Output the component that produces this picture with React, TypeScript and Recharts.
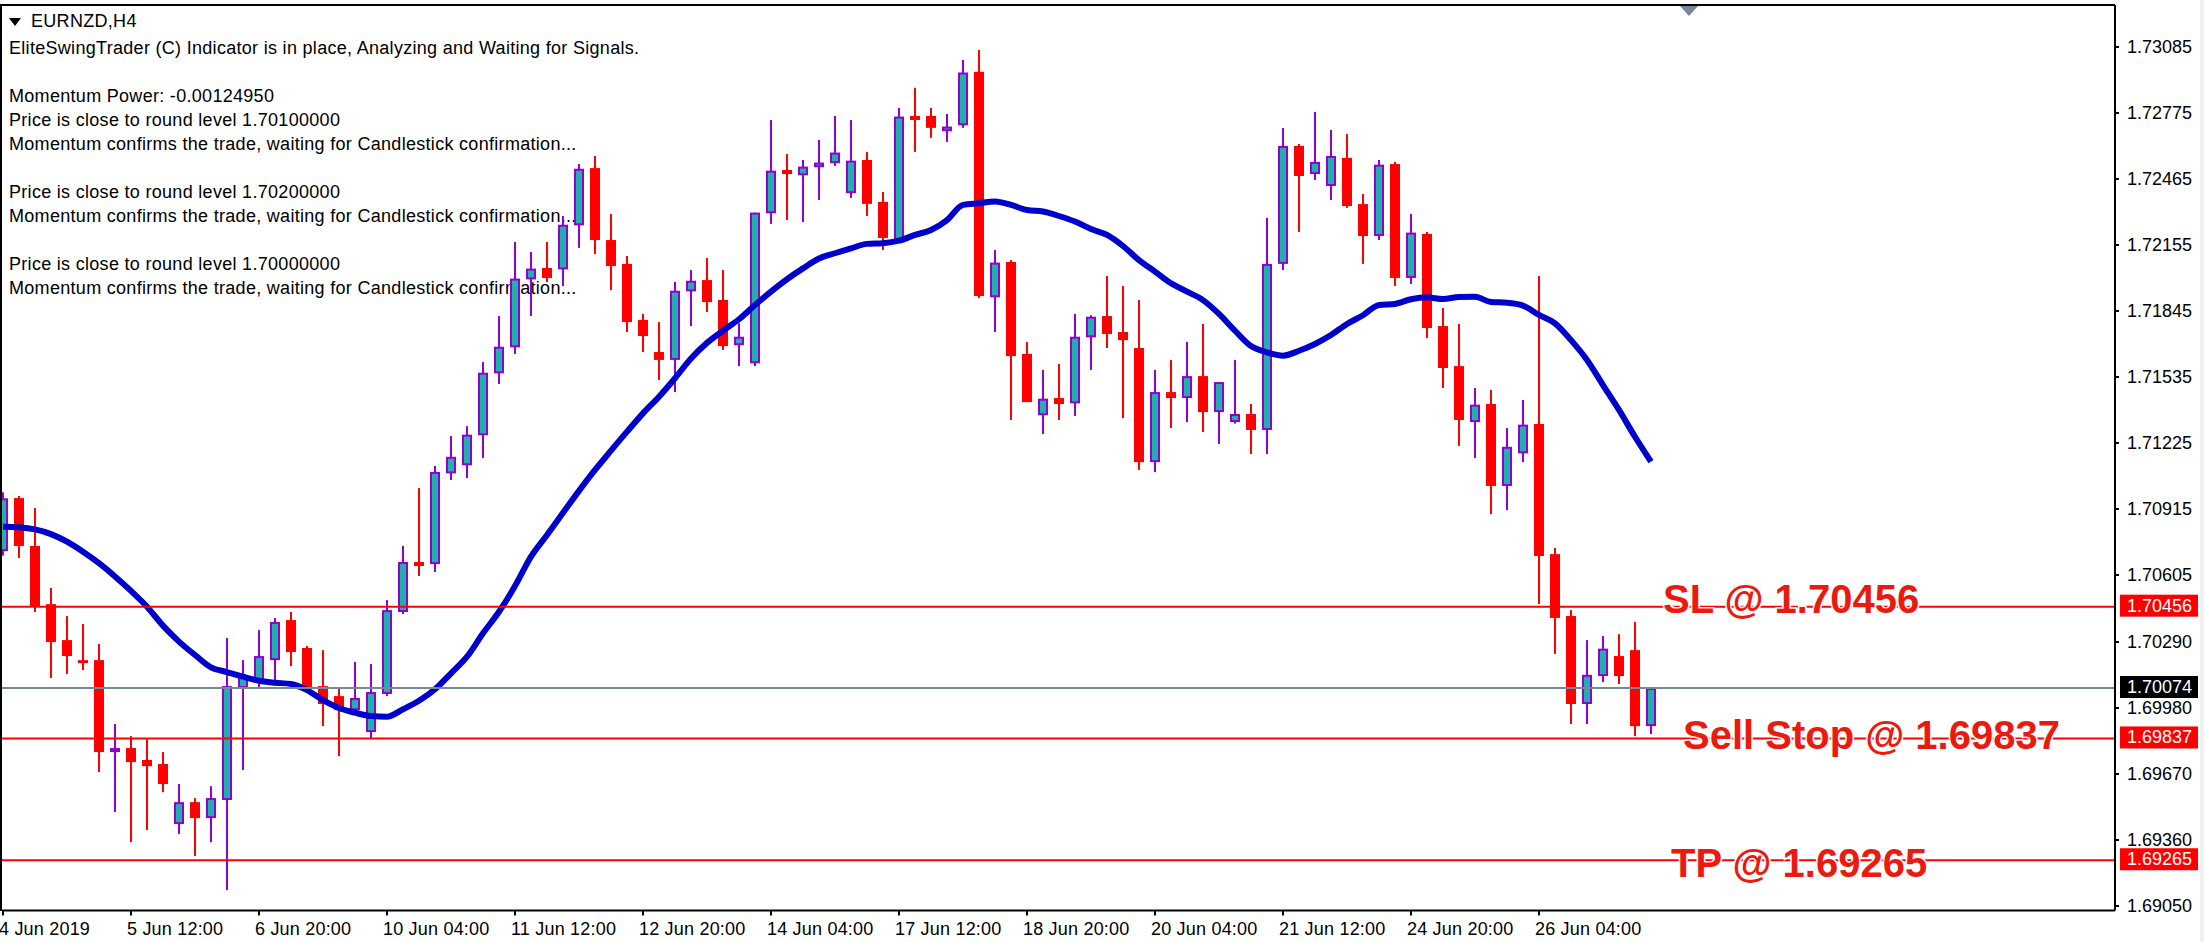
import React from 'react';
import { ComposedChart, Bar, Line, XAxis, YAxis, ReferenceLine } from 'recharts';

const FONT = '"Liberation Sans", Arial, sans-serif';

// ─── Price data ───────────────────────────────────────────────────────────────
const opens = [
  1.70717, 1.70966, 1.70741, 1.70468, 1.70299, 1.70205, 1.70205, 1.69773, 1.69792, 1.69736,
  1.69717, 1.69435, 1.69538, 1.69463, 1.69548, 1.70074, 1.70111, 1.70205, 1.70393, 1.70262,
  1.70083, 1.70036, 1.69970, 1.69867, 1.70046, 1.70431, 1.70666, 1.70656, 1.71082, 1.71120,
  1.71261, 1.71552, 1.71674, 1.71993, 1.72047, 1.72040, 1.72247, 1.72516, 1.72178, 1.72066,
  1.71803, 1.71652, 1.71615, 1.71937, 1.71990, 1.71897, 1.71684, 1.71599, 1.72304, 1.72507,
  1.72482, 1.72520, 1.72539, 1.72398, 1.72554, 1.72357, 1.72178, 1.72761, 1.72761, 1.72689,
  1.72717, 1.72968, 1.71909, 1.72075, 1.71643, 1.71355, 1.71436, 1.71411, 1.71721, 1.71821,
  1.71746, 1.71671, 1.71135, 1.71464, 1.71436, 1.71539, 1.71370, 1.71323, 1.71361, 1.71286,
  1.72066, 1.72620, 1.72488, 1.72432, 1.72564, 1.72347, 1.72197, 1.72535, 1.72000, 1.72207,
  1.71774, 1.71586, 1.71323, 1.71408, 1.71023, 1.71176, 1.71314, 1.70703, 1.70412, 1.69999,
  1.70130, 1.70224, 1.70252, 1.69895,
];
const closes = [
  1.70965, 1.70741, 1.70456, 1.70290, 1.70224, 1.70196, 1.69773, 1.69792, 1.69726, 1.69707,
  1.69623, 1.69538, 1.69463, 1.69557, 1.70083, 1.70127, 1.70224, 1.70384, 1.70243, 1.70074,
  1.69999, 1.69970, 1.70027, 1.70055, 1.70440, 1.70666, 1.70647, 1.71089, 1.71160, 1.71264,
  1.71555, 1.71677, 1.71997, 1.72044, 1.72000, 1.72250, 1.72513, 1.72178, 1.72056, 1.71793,
  1.71727, 1.71615, 1.71940, 1.71987, 1.71887, 1.71680, 1.71724, 1.72307, 1.72504, 1.72488,
  1.72523, 1.72542, 1.72589, 1.72551, 1.72348, 1.72188, 1.72758, 1.72742, 1.72705, 1.72711,
  1.72965, 1.71915, 1.72072, 1.71633, 1.71417, 1.71433, 1.71408, 1.71724, 1.71818, 1.71737,
  1.71708, 1.71135, 1.71464, 1.71436, 1.71539, 1.71370, 1.71511, 1.71361, 1.71286, 1.72066,
  1.72620, 1.72479, 1.72545, 1.72573, 1.72338, 1.72197, 1.72532, 1.72000, 1.72213, 1.71765,
  1.71577, 1.71333, 1.71405, 1.71023, 1.71207, 1.71311, 1.70694, 1.70403, 1.69999, 1.70136,
  1.70259, 1.70130, 1.69895, 1.70074,
];
const highs = [
  1.70993, 1.70976, 1.70919, 1.70544, 1.70412, 1.70375, 1.70281, 1.69905, 1.69848, 1.69833,
  1.69773, 1.69623, 1.69557, 1.69613, 1.70309, 1.70205, 1.70346, 1.70403, 1.70431, 1.70271,
  1.70252, 1.70074, 1.70196, 1.70187, 1.70487, 1.70741, 1.71013, 1.71117, 1.71257, 1.71304,
  1.71605, 1.71821, 1.72169, 1.72122, 1.72169, 1.72291, 1.72535, 1.72573, 1.72300, 1.72103,
  1.71831, 1.71793, 1.71981, 1.72037, 1.72094, 1.72037, 1.71787, 1.72307, 1.72742, 1.72582,
  1.72554, 1.72648, 1.72761, 1.72742, 1.72592, 1.72404, 1.72799, 1.72893, 1.72799, 1.72770,
  1.73024, 1.73071, 1.72131, 1.72084, 1.71699, 1.71568, 1.71596, 1.71831, 1.71825, 1.72009,
  1.71962, 1.71896, 1.71568, 1.71615, 1.71699, 1.71784, 1.71511, 1.71615, 1.71408, 1.72282,
  1.72704, 1.72629, 1.72780, 1.72695, 1.72676, 1.72394, 1.72554, 1.72545, 1.72300, 1.72216,
  1.71859, 1.71784, 1.71483, 1.71474, 1.71295, 1.71427, 1.72009, 1.70732, 1.70440, 1.70299,
  1.70318, 1.70327, 1.70384, 1.70074,
];
const lows = [
  1.70696, 1.70685, 1.70431, 1.70121, 1.70140, 1.70158, 1.69679, 1.69491, 1.69350, 1.69407,
  1.69585, 1.69388, 1.69285, 1.69350, 1.69125, 1.69689, 1.70074, 1.70111, 1.70177, 1.70064,
  1.69895, 1.69754, 1.69955, 1.69839, 1.70036, 1.70422, 1.70600, 1.70619, 1.71051, 1.71060,
  1.71154, 1.71502, 1.71643, 1.71821, 1.71981, 1.71962, 1.72141, 1.72112, 1.71943, 1.71746,
  1.71652, 1.71521, 1.71464, 1.71774, 1.71840, 1.71662, 1.71586, 1.71586, 1.72254, 1.72272,
  1.72263, 1.72366, 1.72526, 1.72376, 1.72291, 1.72131, 1.72170, 1.72592, 1.72658, 1.72639,
  1.72705, 1.71906, 1.71746, 1.71333, 1.71417, 1.71267, 1.71333, 1.71352, 1.71568, 1.71671,
  1.71342, 1.71098, 1.71088, 1.71295, 1.71323, 1.71276, 1.71220, 1.71316, 1.71173, 1.71173,
  1.72037, 1.72216, 1.72460, 1.72366, 1.72329, 1.72066, 1.72178, 1.71962, 1.71972, 1.71718,
  1.71483, 1.71211, 1.71154, 1.70891, 1.70910, 1.71135, 1.70468, 1.70234, 1.69905, 1.69905,
  1.70102, 1.70093, 1.69848, 1.69858,
];
const movingAverage = [
  1.70832, 1.70829, 1.70819, 1.70797, 1.70761, 1.70714, 1.70660, 1.70598, 1.70530, 1.70456,
  1.70367, 1.70292, 1.70229, 1.70171, 1.70149, 1.70127, 1.70108, 1.70099, 1.70093, 1.70064,
  1.70017, 1.69980, 1.69958, 1.69942, 1.69939, 1.69974, 1.70014, 1.70068, 1.70143, 1.70221,
  1.70331, 1.70432, 1.70553, 1.70691, 1.70793, 1.70897, 1.71000, 1.71098, 1.71189, 1.71278,
  1.71364, 1.71442, 1.71529, 1.71622, 1.71695, 1.71752, 1.71806, 1.71873, 1.71936, 1.71994,
  1.72045, 1.72091, 1.72116, 1.72139, 1.72160, 1.72163, 1.72175, 1.72202, 1.72225, 1.72272,
  1.72343, 1.72351, 1.72359, 1.72343, 1.72319, 1.72312, 1.72291, 1.72265, 1.72230, 1.72202,
  1.72150, 1.72084, 1.72030, 1.71975, 1.71936, 1.71896, 1.71831, 1.71752, 1.71680, 1.71651,
  1.71635, 1.71658, 1.71690, 1.71732, 1.71784, 1.71825, 1.71873, 1.71878, 1.71900, 1.71909,
  1.71901, 1.71911, 1.71912, 1.71887, 1.71884, 1.71870, 1.71826, 1.71787, 1.71708, 1.71615,
  1.71497, 1.71380, 1.71254, 1.71137,
];

const priceTicks = [
  1.73085, 1.72775, 1.72465, 1.72155, 1.71845, 1.71535, 1.71225,
  1.70915, 1.70605, 1.7029, 1.6998, 1.6967, 1.6936, 1.6905,
];
const timeTicks = [0, 8, 16, 24, 32, 40, 48, 56, 64, 72, 80, 88, 96];
const timeLabels = [
  '4 Jun 2019', '5 Jun 12:00', '6 Jun 20:00', '10 Jun 04:00', '11 Jun 12:00', '12 Jun 20:00', '14 Jun 04:00',
  '17 Jun 12:00', '18 Jun 20:00', '20 Jun 04:00', '21 Jun 12:00', '24 Jun 20:00', '26 Jun 04:00',
];
const commentLines = [
  'EliteSwingTrader (C) Indicator is in place, Analyzing and Waiting for Signals.',
  '',
  'Momentum Power: -0.00124950',
  'Price is close to round level 1.70100000',
  'Momentum confirms the trade, waiting for Candlestick confirmation...',
  '',
  'Price is close to round level 1.70200000',
  'Momentum confirms the trade, waiting for Candlestick confirmation...',
  '',
  'Price is close to round level 1.70000000',
  'Momentum confirms the trade, waiting for Candlestick confirmation...',
];

const rows = opens.map((open, i) => ({
  i,
  open,
  close: closes[i],
  range: [lows[i], highs[i]],
  ma: movingAverage[i],
}));

// ─── Candle, drawn inside the bar that spans low to high ──────────────────────
function Candle(props: any) {
  const { x, y, width, height, payload } = props;
  const [low, high] = payload.range;
  const perUnit = height / (high - low);
  const yOpen = y + (high - payload.open) * perUnit;
  const yClose = y + (high - payload.close) * perUnit;
  const top = Math.min(yOpen, yClose);
  const h = Math.max(Math.abs(yOpen - yClose), 3);
  const mid = x + width / 2;
  const bull = payload.close >= payload.open;
  const wick = bull ? '#9400D3' : '#FF0000';
  return (
    <g>
      <rect x={mid - 1} y={y} width={2} height={height} fill={wick} />
      {bull ? (
        <rect x={x + 1} y={top + 1} width={width - 2} height={Math.max(h - 2, 1)} fill="#20B2AA" stroke="#9400D3" strokeWidth={2} />
      ) : (
        <rect x={x} y={top} width={width} height={h} fill="#FF0000" />
      )}
    </g>
  );
}

// ─── Price box on the right axis, with the optional big note on the line ──────
function LevelTag(props: any) {
  const { viewBox, text, fill, note, noteX, noteDy } = props;
  const right = viewBox.x + viewBox.width;
  return (
    <g>
      {note && (
        <text
          x={noteX}
          y={viewBox.y + noteDy}
          fill="#EC1A0E"
          stroke="#FFFFFF"
          strokeWidth={3}
          paintOrder="stroke"
          style={{ fontFamily: FONT, fontSize: 40, fontWeight: 700 }}
        >
          {note}
        </text>
      )}
      <rect x={right + 5} y={viewBox.y - 12} width={78} height={22} fill={fill} />
      <text x={right + 12} y={viewBox.y + 5} fill="#FFFFFF" style={{ fontFamily: FONT, fontSize: 18 }}>
        {text}
      </text>
    </g>
  );
}

function TimeTick(props: any) {
  const { x, y, payload } = props;
  return (
    <text x={x - 4} y={y + 17} fill="#000000" style={{ fontFamily: FONT, fontSize: 18, letterSpacing: 0.2 }}>
      {timeLabels[timeTicks.indexOf(payload.value)]}
    </text>
  );
}

export default function App() {
  return (
    <div style={{ position: 'fixed', left: 0, top: 0, width: 2204, height: 942, background: '#FFFFFF', overflow: 'hidden' }}>
      {/* chart comment text sits under the candles */}
      <div style={{ position: 'absolute', left: 31, top: 11, font: `18px ${FONT}`, letterSpacing: 0.3, lineHeight: '20px', color: '#000' }}>EURNZD,H4</div>
      <div style={{ position: 'absolute', left: 9, top: 36, font: `18px ${FONT}`, letterSpacing: 0.3, lineHeight: '24px', color: '#000', whiteSpace: 'pre' }}>
        {commentLines.map((line, i) => (
          <div key={i} style={{ height: 24 }}>{line}</div>
        ))}
      </div>

      <div style={{ position: 'absolute', left: 0, top: 0 }}>
        <ComposedChart width={2204} height={942} data={rows} margin={{ top: 5, right: 0, bottom: 0, left: 2 }}>
          <XAxis
            dataKey="i"
            type="number"
            domain={[-0.0625, 132]}
            ticks={timeTicks}
            tick={<TimeTick />}
            tickSize={5}
            height={31.5}
            axisLine={{ stroke: '#000000', strokeWidth: 2 }}
            tickLine={{ stroke: '#000000', strokeWidth: 2 }}
            interval={0}
            allowDecimals={false}
          />
          <YAxis
            orientation="right"
            type="number"
            domain={[1.69029, 1.73282]}
            ticks={priceTicks}
            width={89}
            interval={0}
            tickSize={4}
            tickMargin={8}
            tickFormatter={(v: number) => v.toFixed(5)}
            tick={{ fontSize: 18, fontFamily: FONT, fill: '#000000', textAnchor: 'start' }}
            axisLine={{ stroke: '#000000', strokeWidth: 2 }}
            tickLine={{ stroke: '#000000', strokeWidth: 2 }}
          />
          <Bar dataKey="range" barSize={10} shape={<Candle />} isAnimationActive={false} />
          <Line dataKey="ma" type="monotone" stroke="#0000CD" strokeWidth={6} dot={false} activeDot={false} isAnimationActive={false} />
          <ReferenceLine y={1.70074} stroke="#778899" strokeWidth={2} label={<LevelTag text="1.70074" fill="#000000" />} />
          <ReferenceLine y={1.70456} stroke="#FF0000" strokeWidth={2} label={<LevelTag text="1.70456" fill="#FF0000" note="SL @ 1.70456" noteX={1663} noteDy={6} />} />
          <ReferenceLine y={1.69837} stroke="#FF0000" strokeWidth={2} label={<LevelTag text="1.69837" fill="#FF0000" note="Sell Stop @ 1.69837" noteX={1683} noteDy={11} />} />
          <ReferenceLine y={1.69265} stroke="#FF0000" strokeWidth={2} label={<LevelTag text="1.69265" fill="#FF0000" note="TP @ 1.69265" noteX={1671} noteDy={17} />} />
        </ComposedChart>
      </div>

      {/* frame, corner arrow and shift marker from the terminal window */}
      <div style={{ position: 'absolute', left: 0, top: 4, width: 2115, height: 2, background: '#000' }} />
      <div style={{ position: 'absolute', left: 0, top: 4, width: 2, height: 907, background: '#000' }} />
      <div style={{ position: 'absolute', left: 2200, top: 0, width: 4, height: 942, background: '#F0F0F0' }} />
      <svg style={{ position: 'absolute', left: 0, top: 0 }} width={2204} height={30}>
        <polygon points="9,18 21,18 15,26" fill="#000000" />
        <polygon points="1680,6 1698,6 1689,16" fill="#778899" />
      </svg>
    </div>
  );
}
